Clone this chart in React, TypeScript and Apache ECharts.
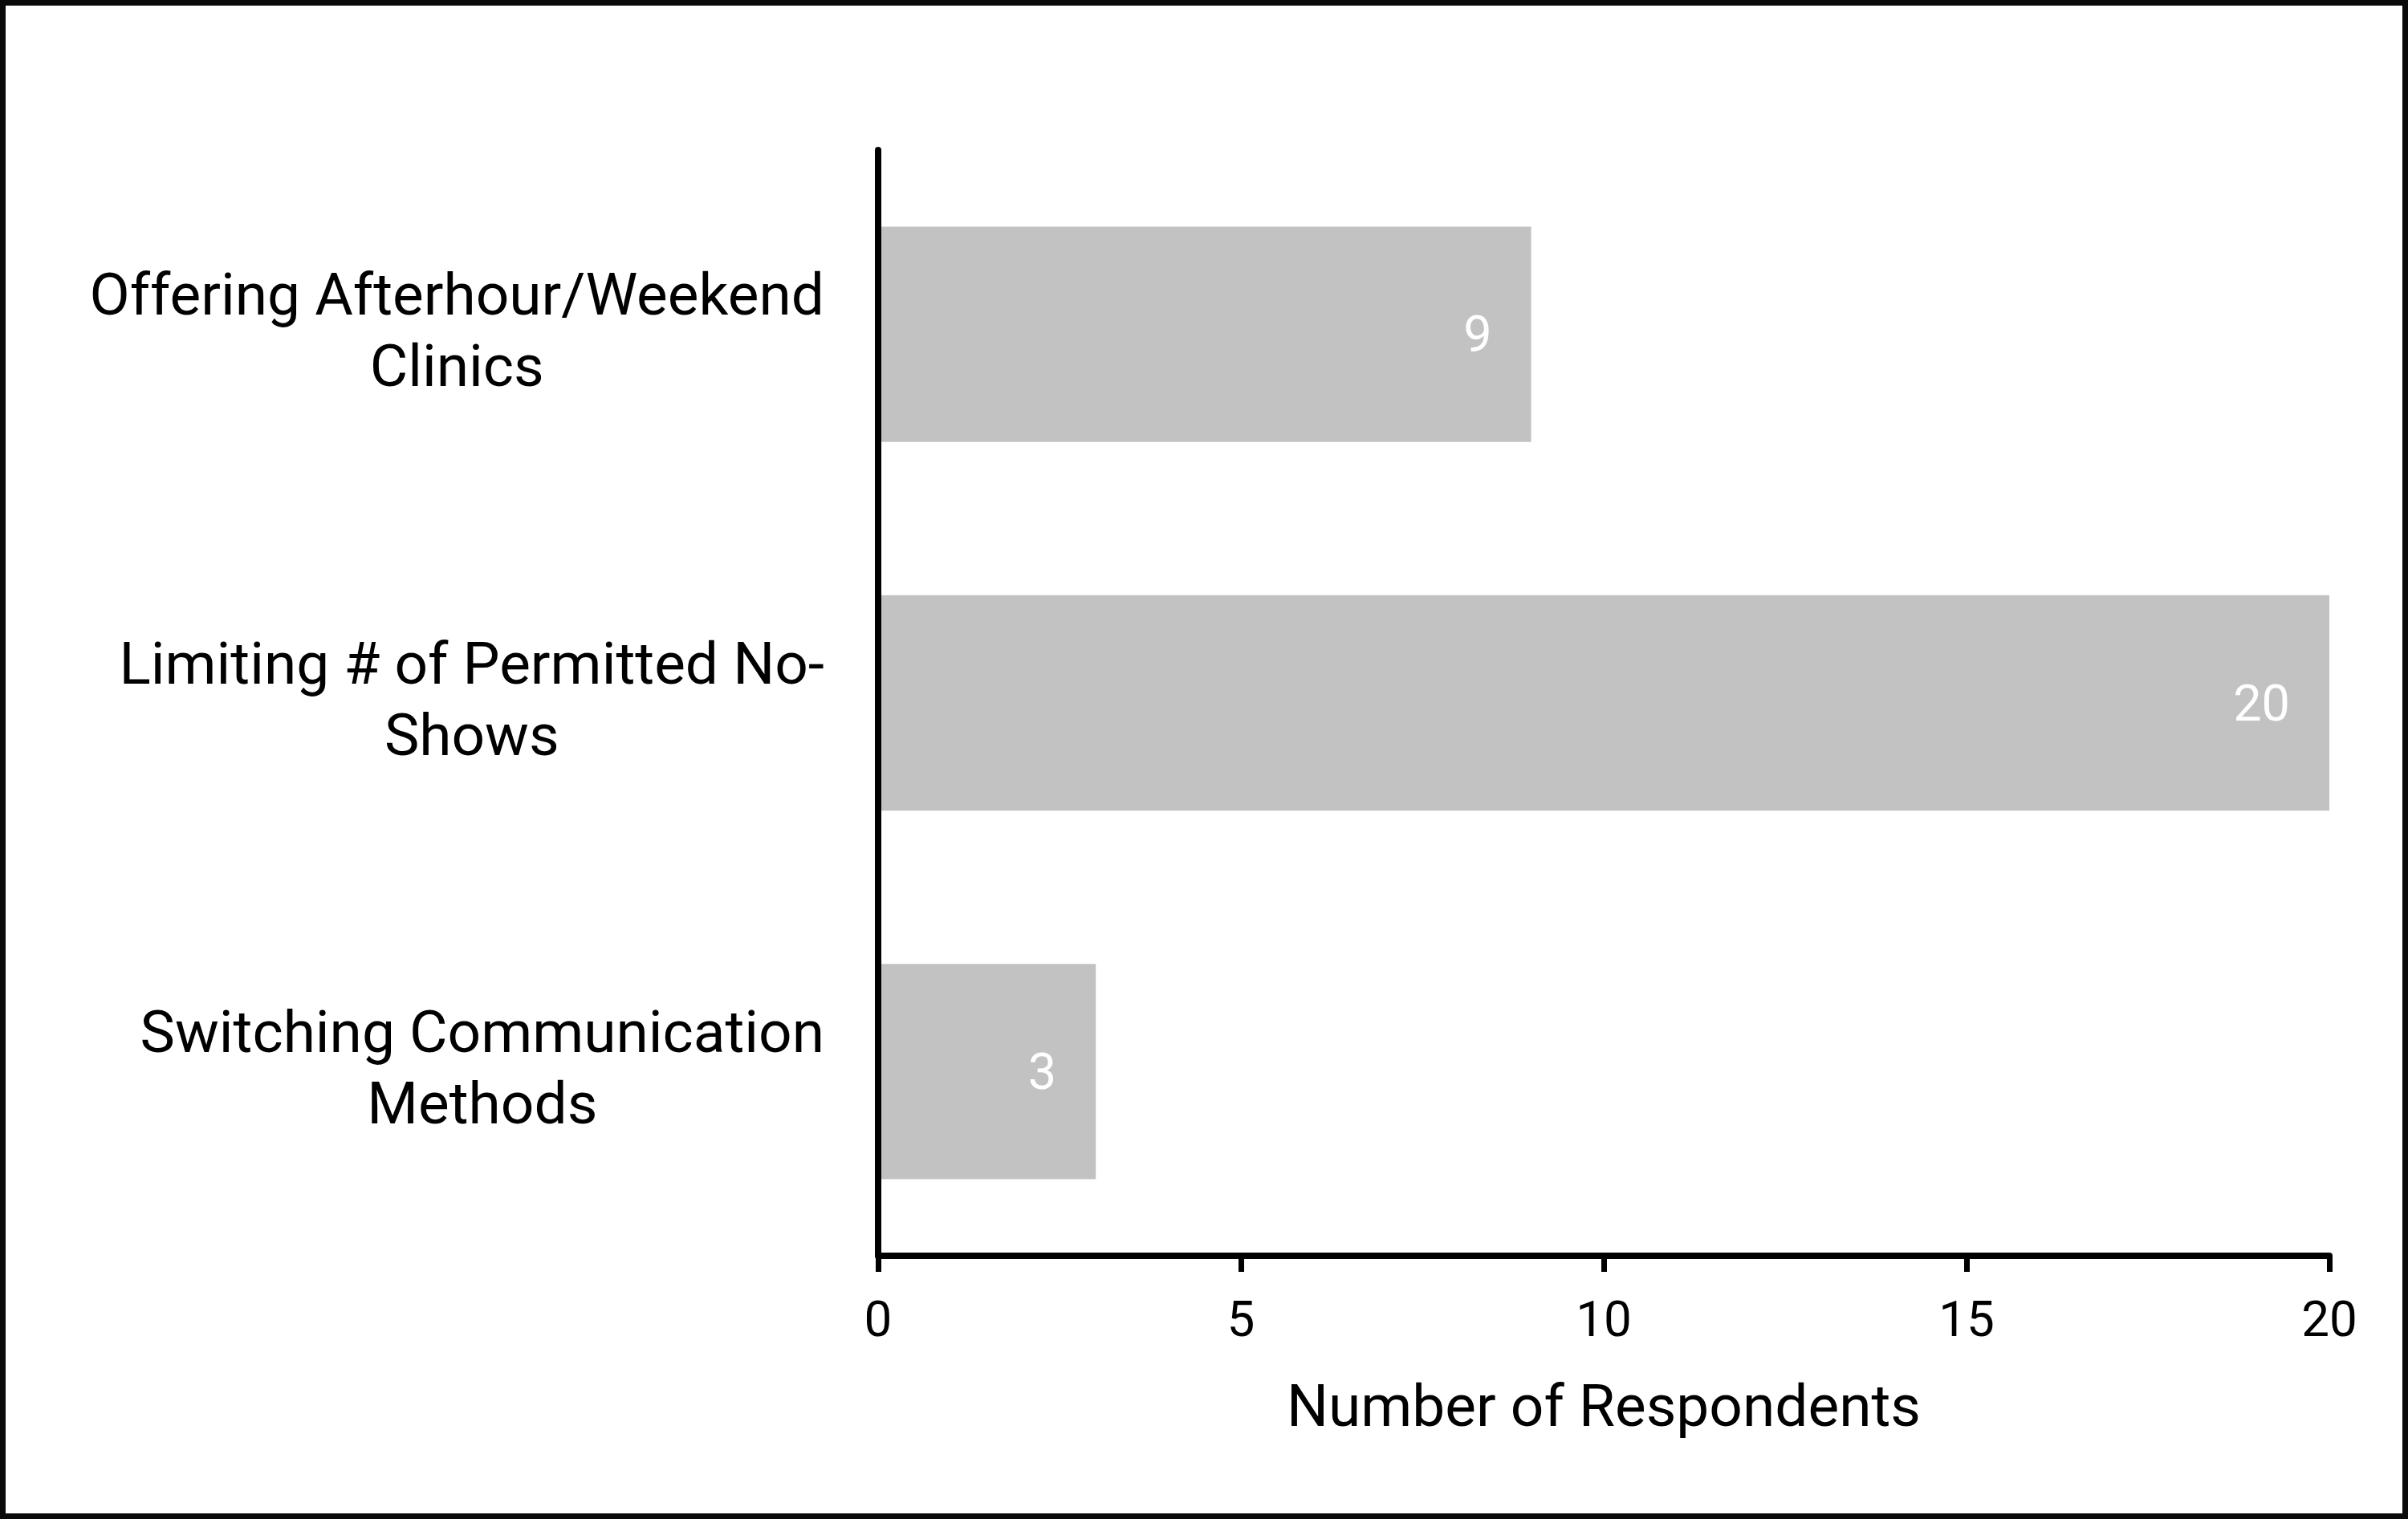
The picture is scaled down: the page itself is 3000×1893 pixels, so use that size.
import React, { useEffect, useRef } from "react";
import * as echarts from "echarts";

const categories = [
  "Offering Afterhour/Weekend\nClinics",
  "Limiting # of Permitted No-\nShows",
  "Switching Communication\nMethods",
];
const respondents = [9, 20, 3];
const axisTitle = "Number of Respondents";
const xMin = 0;
const xMax = 20;
const xStep = 5;

export default function App() {
  const ref = useRef<HTMLDivElement>(null);
  useEffect(() => {
    document.body.style.margin = "0";
    const chart = echarts.init(ref.current!, null, { renderer: "svg" });
    const font = "Roboto";
    chart.setOption({
      animation: false,
      backgroundColor: "#ffffff",
      textStyle: { fontFamily: font },
      grid: { left: 1094, right: 98, top: 187, bottom: 328, containLabel: false },
      xAxis: {
        type: "value",
        z: 10,
        min: xMin,
        max: xMax,
        interval: xStep,
        name: axisTitle,
        nameLocation: "middle",
        nameGap: 150,
        nameTextStyle: { fontFamily: font, fontSize: 73, color: "#000" },
        axisLine: { show: true, lineStyle: { color: "#000", width: 8 } },
        axisTick: { show: true, length: 20, lineStyle: { color: "#000", width: 7 } },
        axisLabel: { fontFamily: font, fontSize: 62, color: "#000", margin: 47 },
        splitLine: { show: false },
      },
      yAxis: {
        type: "category",
        z: 10,
        data: categories,
        inverse: true,
        axisLine: { show: true, lineStyle: { color: "#000", width: 8 } },
        axisTick: { show: false },
        axisLabel: {
          margin: 67,
          align: "right",
          padding: [0, 0, 10, 0],
          formatter: (v: string) =>
            v
              .split("\n")
              .map((s) => "{c|" + s + "}")
              .join("\n"),
          rich: {
            c: {
              align: "center",
              fontFamily: font,
              fontSize: 73,
              lineHeight: 89,
              color: "#000",
            },
          },
        },
      },
      series: [
        {
          type: "bar",
          data: respondents,
          barCategoryGap: "41.6%",
          itemStyle: { color: "#c2c2c2" },
          label: {
            show: true,
            position: "insideRight",
            distance: 49,
            color: "#ffffff",
            fontFamily: font,
            fontSize: 63,
          },
        },
      ],
      graphic: [
        {
          type: "rect",
          shape: { x: 3.5, y: 3.5, width: 2993, height: 1886 },
          style: { fill: "none", stroke: "#0a0a0a", lineWidth: 7 },
          silent: true,
        },
      ],
    });
    return () => chart.dispose();
  }, []);
  return <div ref={ref} style={{ width: 3000, height: 1893 }} />;
}
